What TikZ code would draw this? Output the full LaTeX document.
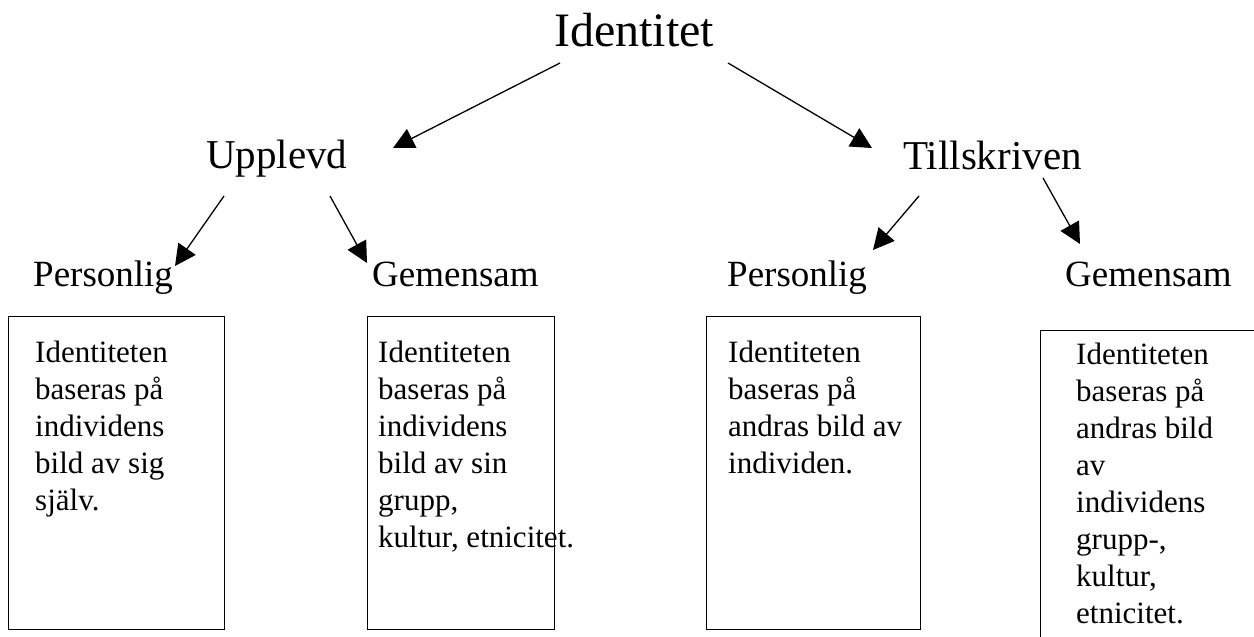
\documentclass[tikz,border=0pt]{standalone}
\usepackage{fontspec}
\setmainfont{Liberation Serif}
\usepackage{tikz}
\usetikzlibrary{arrows.meta}

\begin{document}
\begin{tikzpicture}[x=1pt, y=-1pt,
		title_style/.style={inner sep=0pt, anchor=base west, font=\fontsize{48}{58}\selectfont},
		head_style/.style={inner sep=0pt, anchor=base west, font=\fontsize{41}{49}\selectfont},
		sub_style/.style={inner sep=0pt, anchor=base west, font=\fontsize{37}{44}\selectfont},
		box_style/.style={draw=black, line width=1.3pt, anchor=north west, minimum width=#1, minimum height=313pt, inner sep=0pt},
		text_style/.style={inner sep=0pt, anchor=north west, align=left, font=\fontsize{31}{37}\selectfont},
		edge_style/.style={draw=black, line width=1.3pt, -{Triangle[length=21pt, width=21pt]}}]
		
		\clip (0,0) rectangle (1254,637);
		
		\node[title_style] (id) at (554,46) {Identitet};
		\node[head_style] (upp) at (206,168) {Upplevd};
		\node[head_style] (til) at (903,169) {Tillskriven};
		\node[sub_style] (p1) at (33,286) {Personlig};
		\node[sub_style] (g1) at (372,286) {Gemensam};
		\node[sub_style] (p2) at (727,286) {Personlig};
		\node[sub_style] (g2) at (1065,286) {Gemensam};
		
		\node[box_style=216pt] (b1) at (8,316) {};
		\node[box_style=187pt] (b2) at (367,316) {};
		\node[box_style=214pt] (b3) at (706,316) {};
		\node[box_style=230pt, minimum height=340pt] (b4) at (1040,330) {};
		
		\node[text_style] (t1) at ([shift={(27,25)}]b1.north west) {Identiteten\\baseras på\\individens\\bild av sig\\själv.};
		\node[text_style] (t2) at ([shift={(11,25)}]b2.north west) {Identiteten\\baseras på\\individens\\bild av sin\\grupp,\\kultur, etnicitet.};
		\node[text_style] (t3) at ([shift={(22,25)}]b3.north west) {Identiteten\\baseras på\\andras bild av\\individen.};
		\node[text_style] (t4) at ([shift={(36,13)}]b4.north west) {Identiteten\\baseras på\\andras bild\\av\\individens\\grupp-,\\kultur,\\etnicitet.};
		
		\draw[edge_style] ([shift={(6,17)}]id.base west) -- ([shift={(187,-20)}]upp.base west);
		\draw[edge_style] ([shift={(174,17)}]id.base west) -- ([shift={(-31,-21)}]til.base west);
		\draw[edge_style] ([shift={(18,28)}]upp.base west) -- ([shift={(142,-20)}]p1.base west);
		\draw[edge_style] ([shift={(124,28)}]upp.base west) -- ([shift={(-5,-23)}]g1.base west);
		\draw[edge_style] ([shift={(16,27)}]til.base west) -- ([shift={(146,-36)}]p2.base west);
		\draw[edge_style] ([shift={(140,9)}]til.base west) -- ([shift={(15,-42)}]g2.base west);
		
\end{tikzpicture}
\end{document}
